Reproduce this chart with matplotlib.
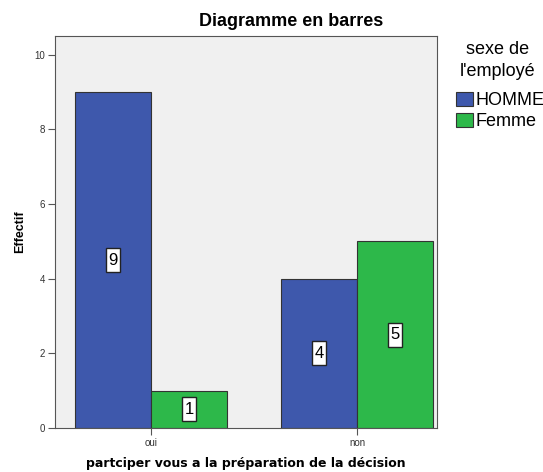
import matplotlib
matplotlib.use("Agg")
import matplotlib.pyplot as plt
import numpy as np

categories = ["oui", "non"]
series_names = ["HOMME", "Femme"]
homme = [9, 4]
femme = [1, 5]
yticks = [0, 2, 4, 6, 8, 10]

colors = ["#3E58AC", "#2DB84A"]

fig = plt.figure(figsize=(5.43, 4.72), dpi=100)
ax = fig.add_axes([55/543, 1-428/472, (437-55)/543, (428-36)/472])
ax.set_facecolor("#F0F0F0")

x = np.arange(len(categories))
w = 0.369
bars = []
for i, (vals, name) in enumerate(zip([homme, femme], series_names)):
    b = ax.bar(x + (i - 0.5) * w, vals, width=w, color=colors[i], edgecolor="#333333",
               linewidth=0.8, label=name, zorder=2)
    bars.append(b)
    for rect, v in zip(b, vals):
        ax.text(rect.get_x() + rect.get_width()/2, v/2, str(v), ha="center", va="center",
                fontsize=12, family="Liberation Sans",
                bbox=dict(boxstyle="square,pad=0.12", fc="white", ec="#222222", lw=1.0,
                          mutation_aspect=2.2), zorder=3)

ax.set_xlim(-0.466, 1.388)
ax.set_ylim(0, 10.5)
ax.set_xticks(x)
ax.set_xticklabels(categories, fontsize=7, family="Liberation Sans")
ax.set_yticks(yticks)
ax.set_yticklabels([str(t) for t in yticks], fontsize=7, family="Liberation Sans")
ax.tick_params(axis="both", length=5, width=0.8, color="#555555", labelcolor="#333333", pad=2)
for s in ax.spines.values():
    s.set_color("#555555")
    s.set_linewidth(0.8)

fig.text(20/543, 1-232/472, "Effectif", rotation=90, ha="center", va="center", fontsize=9,
         fontweight="bold", family="Liberation Sans")
fig.text(246/543, 1-463/472, "partciper vous a la préparation de la décision", ha="center",
         va="center", fontsize=9, fontweight="bold", family="DejaVu Sans")

fig.text(291/543, 1-21/472, "Diagramme en barres", ha="center", va="center", fontsize=13,
         fontweight="bold", family="Liberation Sans")

fig.text(498/543, 1-50/472, "sexe de", ha="center", va="center", fontsize=13,
         family="Liberation Sans")
fig.text(498/543, 1-72/472, "l'employé", ha="center", va="center", fontsize=13,
         family="Liberation Sans")

leg = fig.legend(handles=bars, labels=series_names, loc="upper left",
                 bbox_to_anchor=(452/543, 1-88/472), frameon=False,
                 prop={"family": "Liberation Sans", "size": 13},
                 handlelength=0.95, handleheight=0.85, handletextpad=0.15, labelspacing=0.2,
                 borderaxespad=0, borderpad=0.2)

fig.savefig("out.png", dpi=100)
